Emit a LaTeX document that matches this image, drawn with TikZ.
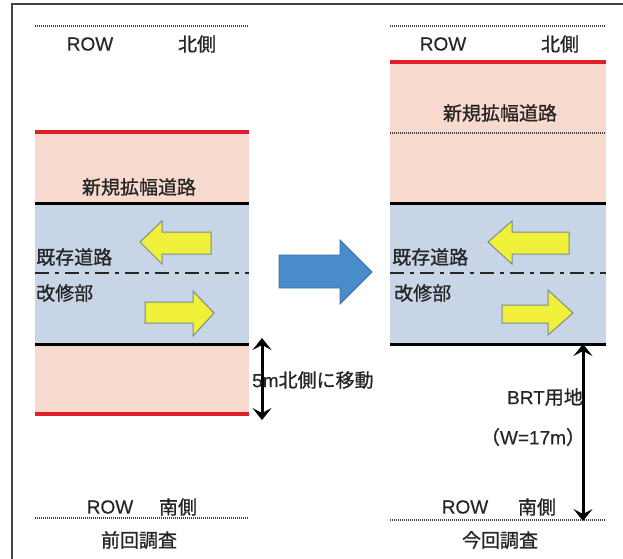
\documentclass[tikz,border=0pt]{standalone}
\usepackage{fontspec}
\setmainfont{Liberation Sans}[FakeBold=0.4]
\newfontfamily\jp{Noto Sans CJK JP}[FakeBold=1.0]
\usetikzlibrary{arrows.meta}
\definecolor{pinkfill}{HTML}{F8D9CD}
\definecolor{bluefill}{HTML}{C7D5E7}
\definecolor{redline}{HTML}{E02028}
\definecolor{yelfill}{HTML}{F0F03A}
\definecolor{yeldraw}{HTML}{7A8C8C}
\definecolor{bigblue}{HTML}{4A8BCA}
\definecolor{bigbluedraw}{HTML}{3A6FA6}
\definecolor{txt}{HTML}{262626}
\definecolor{frame}{HTML}{444444}
\tikzset{
  lbl/.style={inner sep=0pt, text=txt, font=\fontsize{19}{19}\selectfont},
  jlbl/.style={lbl, font=\fontsize{19}{19}\selectfont\jp},
  redln/.style={redline, line width=3.5pt},
  blackln/.style={black, line width=3pt},
  dotln/.style={black!75, line width=1.2pt, dash pattern=on 1pt off 1pt},
  dashdotln/.style={txt, line width=1.5pt, dash pattern=on 14pt off 6pt on 4pt off 6pt},
  yarrow/.style={fill=yelfill, draw=yeldraw, line width=1pt, line join=miter},
  dblarrow/.style={black, line width=3pt, {Stealth[length=12pt,width=19pt,inset=5pt]}-{Stealth[length=12pt,width=19pt,inset=5pt]}}
}
\begin{document}
\begin{tikzpicture}[x=1pt,y=-1pt]
\useasboundingbox (0,0) rectangle (623,558);
\fill[white] (0,0) rectangle (623,558);
% frame (top and left edges)
\draw[frame, line width=2pt] (12,560) -- (12,3.5) -- (625,3.5);

% ---------- left panel ----------
\fill[pinkfill] (35,132) rectangle (249,203);
\fill[bluefill] (35,203) rectangle (249,344);
\fill[pinkfill] (35,344) rectangle (249,414);
\draw[redln] (35,132) -- (249,132);
\draw[blackln] (35,203) -- (249,203);
\draw[dashdotln] (35,273) -- (249,273);
\draw[blackln] (35,344) -- (249,344);
\draw[redln] (35,414) -- (249,414);
\draw[dotln] (35,26) -- (249,26);
\draw[dotln] (35,518) -- (249,518);

\node[lbl] (lrow) at (90,44) {ROW};
\node[jlbl] (lnorth) at (197,44) {北側};
\node[jlbl] (lnew) at (139,187) {新規拡幅道路};
\node[jlbl, anchor=west] (lexist) at (36,257) {既存道路};
\node[jlbl, anchor=west] (lrep) at (36,293) {改修部};
\node[lbl] (lrows) at (110,507) {ROW};
\node[jlbl] (lsouth) at (178,507) {南側};
\node[jlbl] (lprev) at (139,540) {前回調査};

\draw[yarrow] (140,242) -- (162,221) -- (162,232) -- (211,232) -- (211,254) -- (162,254) -- (162,264) -- cycle;
\draw[yarrow] (214,313) -- (193,291) -- (193,302) -- (145,302) -- (145,323) -- (193,323) -- (193,336) -- cycle;

\coordinate (la1) at (262,338);
\coordinate (la2) at (262,420);
\draw[dblarrow] (la1) -- (la2);
\node[lbl, anchor=west] (lmove) at (252,380) {5m{\jp 北側に移動}};

% ---------- big arrow ----------
\draw[fill=bigblue, draw=bigbluedraw, line width=0.8pt, line join=miter]
  (279,255) -- (340,255) -- (340,240) -- (372,272) -- (340,304) -- (340,288) -- (279,288) -- cycle;

% ---------- right panel ----------
\fill[pinkfill] (390,62) rectangle (606,203);
\fill[bluefill] (390,203) rectangle (606,344);
\draw[redln] (390,62) -- (606,62);
\draw[dotln] (390,133) -- (606,133);
\draw[blackln] (390,203) -- (606,203);
\draw[dashdotln] (390,273) -- (606,273);
\draw[blackln] (390,344) -- (606,344);
\draw[dotln] (390,26) -- (606,26);
\draw[dotln] (390,520) -- (606,520);

\node[lbl] (rrow) at (443,44) {ROW};
\node[jlbl] (rnorth) at (560,44) {北側};
\node[jlbl] (rnew) at (500,113) {新規拡幅道路};
\node[jlbl, anchor=west] (rexist) at (392,257) {既存道路};
\node[jlbl, anchor=west] (rrep) at (394,293) {改修部};
\node[lbl] (rrows) at (465,507) {ROW};
\node[jlbl] (rsouth) at (537,507) {南側};
\node[jlbl] (rnow) at (500,540) {今回調査};

\draw[yarrow] (488,242) -- (512,221) -- (512,232) -- (569,232) -- (569,254) -- (512,254) -- (512,264) -- cycle;
\draw[yarrow] (573,313) -- (548,290) -- (548,305) -- (502,305) -- (502,323) -- (548,323) -- (548,335) -- cycle;

\coordinate (ra1) at (583,344);
\coordinate (ra2) at (583,521);
\draw[dblarrow] (ra1) -- (ra2);
\node[lbl, anchor=east] (rbrt) at (583,397) {BRT{\jp 用地}};
\node[lbl] (rw) at (533,437) {{\jp （}W=17m{\jp ）}};
\end{tikzpicture}
\end{document}
